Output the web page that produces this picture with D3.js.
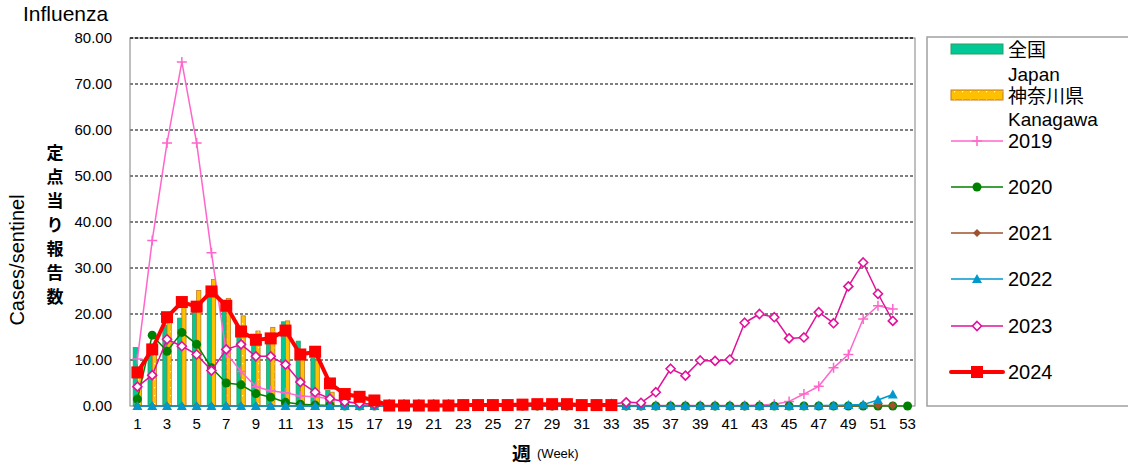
<!DOCTYPE html>
<html>
<head>
<meta charset="utf-8">
<script src="https://cdn.jsdelivr.net/npm/d3@7"></script>
<style>
  body { margin: 0; background: #fff; }
  text { font-family: "Liberation Sans", Arial, sans-serif; fill: #000; }
</style>
</head>
<body>
<svg id="chart" width="1128" height="470"></svg>
<script>
// weeks 1..53
const weeks = d3.range(1, 54);
const tickWeeks = weeks.filter((w) => w % 2 === 1);
const yTicks = [0, 10, 20, 30, 40, 50, 60, 70, 80];

// bars (weeks 1..33)
const japanBars = [12.7, 11.0, 17.5, 19.1, 21.5, 23.8, 22.0, 16.8, 15.1, 15.1, 18.3, 14.1, 10.4, 3.4, 1.5, 0.6, 0.3, 0.1, 0.1, 0.1, 0.1, 0.1, 0.1, 0.1, 0.1, 0.1, 0.1, 0.1, 0.1, 0.1, 0.1, 0.1, 0.1];
const kanagawaBars = [7.0, 12.0, 19.0, 22.0, 25.1, 27.5, 23.4, 19.6, 16.3, 17.1, 18.5, 12.1, 9.9, 3.0, 1.5, 0.8, 0.3, 0.1, 0.1, 0.1, 0.1, 0.1, 0.1, 0.1, 0.1, 0.1, 0.1, 0.2, 0.2, 0.2, 0.1, 0.1, 0.1];

const y2019 = [10.2, 36.0, 57.2, 74.8, 57.2, 33.3, 11.5, 7.5, 4.2, 3.3, 2.9, 2.2, 2.0, 1.6, 1.0, 0.5, 0.3, 0.2, 0.1, 0.1, 0.1, 0.1, 0.1, 0.1, 0.1, 0.1, 0.1, 0.1, 0.1, 0.1, 0.1, 0.1, 0.1, 0.1, 0.1, 0.1, 0.1, 0.1, 0.1, 0.1, 0.1, 0.1, 0.2, 0.4, 1.0, 2.6, 4.3, 8.3, 11.2, 18.9, 21.8, 21.1];
const y2020 = [1.5, 15.4, 11.9, 16.0, 13.4, 8.3, 5.0, 4.6, 2.7, 1.9, 0.8, 0.4, 0.2, 0.1, 0.0, 0.0, 0.0, 0.0, 0.0, 0.0, 0.0, 0.0, 0.0, 0.0, 0.0, 0.0, 0.0, 0.0, 0.0, 0.0, 0.0, 0.0, 0.0, 0.0, 0.0, 0.0, 0.0, 0.0, 0.0, 0.0, 0.0, 0.0, 0.0, 0.0, 0.0, 0.0, 0.0, 0.0, 0.0, 0.0, 0.0, 0.0, 0.0];
const y2021 = [0.0, 0.0, 0.0, 0.0, 0.0, 0.0, 0.0, 0.0, 0.0, 0.0, 0.0, 0.0, 0.0, 0.0, 0.0, 0.0, 0.0, 0.0, 0.0, 0.0, 0.0, 0.0, 0.0, 0.0, 0.0, 0.0, 0.0, 0.0, 0.0, 0.0, 0.0, 0.0, 0.0, 0.0, 0.0, 0.0, 0.0, 0.0, 0.0, 0.0, 0.0, 0.0, 0.0, 0.0, 0.0, 0.0, 0.0, 0.0, 0.0, 0.1, 0.1, 0.1];
const y2022 = [0.0, 0.0, 0.0, 0.0, 0.0, 0.0, 0.0, 0.0, 0.0, 0.0, 0.0, 0.0, 0.0, 0.0, 0.0, 0.0, 0.0, 0.0, 0.0, 0.0, 0.0, 0.0, 0.0, 0.0, 0.0, 0.0, 0.0, 0.0, 0.0, 0.0, 0.0, 0.0, 0.0, 0.0, 0.0, 0.0, 0.0, 0.0, 0.0, 0.0, 0.0, 0.0, 0.0, 0.0, 0.0, 0.0, 0.1, 0.1, 0.2, 0.3, 1.3, 2.5];
const y2023 = [4.2, 6.7, 14.5, 13.0, 11.2, 7.7, 12.3, 13.4, 10.8, 10.8, 9.0, 5.2, 3.0, 1.6, 0.9, 0.6, 0.4, 0.3, 0.3, 0.3, 0.3, 0.3, 0.3, 0.3, 0.3, 0.3, 0.3, 0.3, 0.3, 0.3, 0.3, 0.3, 0.4, 0.8, 0.7, 3.0, 8.1, 6.6, 9.9, 9.8, 10.1, 18.1, 20.0, 19.3, 14.7, 14.9, 20.4, 18.0, 26.0, 31.2, 24.4, 18.5];
const y2024 = [7.3, 12.3, 19.3, 22.6, 21.6, 24.9, 21.8, 16.2, 14.4, 14.7, 16.4, 11.2, 11.8, 4.9, 2.6, 2.0, 1.2, 0.1, 0.1, 0.1, 0.1, 0.1, 0.2, 0.2, 0.2, 0.2, 0.3, 0.4, 0.4, 0.4, 0.2, 0.2, 0.2];

const svg = d3.select("#chart");
const plotLeft = 130, plotRight = 915, plotTop = 38, plotBottom = 406;

const x = d3.scaleBand().domain(weeks).range([plotLeft, plotRight]);
const y = d3.scaleLinear().domain([0, 80]).range([plotBottom, plotTop]);
const cx = (w) => x(w) + x.bandwidth() / 2;

const defs = svg.append("defs");
const dots = defs.append("pattern")
  .attr("id", "dots").attr("patternUnits", "userSpaceOnUse")
  .attr("width", 8).attr("height", 8);
dots.append("rect").attr("width", 8).attr("height", 8).attr("fill", "#FFC000");
dots.append("rect").attr("x", 2).attr("y", 3).attr("width", 1.2).attr("height", 1.2).attr("fill", "#fff");

// grid
svg.append("g")
  .selectAll("line")
  .data(yTicks.filter((t) => t > 0))
  .enter()
  .append("line")
  .attr("x1", plotLeft).attr("x2", plotRight)
  .attr("y1", (t) => y(t)).attr("y2", (t) => y(t))
  .attr("stroke", "#000").attr("stroke-width", 1)
  .attr("stroke-dasharray", "3,2");

// frame
svg.append("rect")
  .attr("x", plotLeft).attr("y", plotTop)
  .attr("width", plotRight - plotLeft).attr("height", plotBottom - plotTop)
  .attr("fill", "none").attr("stroke", "#808080").attr("stroke-width", 1);
svg.append("line")
  .attr("x1", plotLeft).attr("x2", plotRight).attr("y1", plotTop).attr("y2", plotTop)
  .attr("stroke", "#000").attr("stroke-dasharray", "3,2");

// y axis
const yAxis = svg.append("g")
  .attr("transform", `translate(${plotLeft},0)`)
  .call(d3.axisLeft(y).tickValues(yTicks).tickFormat(d3.format(".2f")).tickSize(0).tickPadding(18));
yAxis.select(".domain").remove();
yAxis.selectAll("text").style("font-size", "15px").style("font-family", "Liberation Sans, Arial");

// x axis
const xAxis = svg.append("g")
  .attr("transform", `translate(0,${plotBottom})`)
  .call(d3.axisBottom(x).tickValues(tickWeeks).tickSize(0).tickPadding(12));
xAxis.select(".domain").remove();
xAxis.selectAll("text").style("font-size", "15px").style("font-family", "Liberation Sans, Arial");

// bars
const barW = 4.2;
svg.append("g")
  .selectAll("rect")
  .data(japanBars)
  .enter()
  .append("rect")
  .attr("x", (d, i) => cx(i + 1) - barW)
  .attr("y", (d) => y(d))
  .attr("width", barW)
  .attr("height", (d) => plotBottom - y(d))
  .attr("fill", "#00C896")
  .attr("stroke", "#2E9E5E").attr("stroke-width", 0.8);

svg.append("g")
  .selectAll("rect")
  .data(kanagawaBars)
  .enter()
  .append("rect")
  .attr("x", (d, i) => cx(i + 1))
  .attr("y", (d) => y(d))
  .attr("width", barW)
  .attr("height", (d) => plotBottom - y(d))
  .attr("fill", "url(#dots)")
  .attr("stroke", "#C07820").attr("stroke-width", 0.8);

// line series
const series = [
  { name: "2019", data: y2019, color: "#FF66CC", width: 1.5, marker: "plus" },
  { name: "2020", data: y2020, color: "#008000", width: 1.5, marker: "circle" },
  { name: "2021", data: y2021, color: "#A0522D", width: 1.5, marker: "diamondFill" },
  { name: "2022", data: y2022, color: "#0099CC", width: 1.5, marker: "triangle" },
  { name: "2023", data: y2023, color: "#E0129A", width: 1.5, marker: "diamondOpen" },
  { name: "2024", data: y2024, color: "#FF0000", width: 4, marker: "square" },
];

function drawMarker(g, type, color, px, py) {
  if (type === "plus") {
    g.append("path").attr("d", `M${px - 5},${py}H${px + 5}M${px},${py - 5}V${py + 5}`)
      .attr("stroke", color).attr("stroke-width", 1.5).attr("fill", "none");
  } else if (type === "circle") {
    g.append("circle").attr("cx", px).attr("cy", py).attr("r", 4.5).attr("fill", color);
  } else if (type === "diamondFill") {
    g.append("path").attr("d", `M${px},${py - 4}L${px + 4},${py}L${px},${py + 4}L${px - 4},${py}Z`).attr("fill", color);
  } else if (type === "triangle") {
    g.append("path").attr("d", `M${px},${py - 5}L${px + 5},${py + 4}L${px - 5},${py + 4}Z`).attr("fill", color);
  } else if (type === "diamondOpen") {
    g.append("path").attr("d", `M${px},${py - 4.5}L${px + 4.5},${py}L${px},${py + 4.5}L${px - 4.5},${py}Z`)
      .attr("fill", "#fff").attr("stroke", color).attr("stroke-width", 1.6);
  } else if (type === "square") {
    g.append("rect").attr("x", px - 6).attr("y", py - 6).attr("width", 12).attr("height", 12).attr("fill", color);
  }
}

const line = d3.line().x((d, i) => cx(i + 1)).y((d) => y(d));

series.forEach((s) => {
  const g = svg.append("g");
  g.append("path")
    .datum(s.data)
    .attr("d", line)
    .attr("fill", "none")
    .attr("stroke", s.color)
    .attr("stroke-width", s.width)
    .attr("stroke-linejoin", "round");
  s.data.forEach((d, i) => drawMarker(g, s.marker, s.color, cx(i + 1), y(d)));
});

// titles
svg.append("text").attr("x", 23).attr("y", 21).text("Influenza").style("font-size", "21px");
svg.append("text")
  .attr("transform", "translate(24,260) rotate(-90)")
  .attr("text-anchor", "middle")
  .text("Cases/sentinel")
  .style("font-size", "20px");
const yTitle = "定点当り報告数".split("");
svg.append("g")
  .selectAll("text")
  .data(yTitle)
  .enter()
  .append("text")
  .attr("x", 55)
  .attr("y", (d, i) => 159 + i * 24)
  .attr("text-anchor", "middle")
  .text((d) => d)
  .style("font-size", "17px")
  .style("font-weight", "bold")
  .style("font-family", "Noto Sans CJK JP");

const xTitle = svg.append("text").attr("x", 512).attr("y", 461);
xTitle.append("tspan").text("週").style("font-size", "19px").style("font-weight", "bold").style("font-family", "Noto Sans CJK JP");
xTitle.append("tspan").attr("dx", 6).attr("dy", -3).text("(Week)").style("font-size", "13px");

// legend
svg.append("rect")
  .attr("x", 927).attr("y", 37).attr("width", 210).attr("height", 369)
  .attr("fill", "#fff").attr("stroke", "#a0a0a0").attr("stroke-width", 1.5);

const lg = svg.append("g");
lg.append("rect").attr("x", 951).attr("y", 44).attr("width", 52).attr("height", 10)
  .attr("fill", "#00C896").attr("stroke", "#2E9E5E");
lg.append("text").attr("x", 1008).attr("y", 57).text("全国").style("font-size", "19px").style("font-family", "Noto Sans CJK JP");
lg.append("text").attr("x", 1008).attr("y", 81).text("Japan").style("font-size", "19px");
lg.append("rect").attr("x", 951).attr("y", 90).attr("width", 52).attr("height", 10)
  .attr("fill", "url(#dots)").attr("stroke", "#C07820");
lg.append("text").attr("x", 1008).attr("y", 103).text("神奈川県").style("font-size", "19px").style("font-family", "Noto Sans CJK JP");
lg.append("text").attr("x", 1008).attr("y", 126).text("Kanagawa").style("font-size", "19px");

const legendY = [141, 187, 233, 279, 326, 372];
series.forEach((s, i) => {
  const ly = legendY[i];
  lg.append("line").attr("x1", 951).attr("x2", 1003).attr("y1", ly).attr("y2", ly)
    .attr("stroke", s.color).attr("stroke-width", s.width).attr("stroke-linecap", s.width > 2 ? "round" : "butt");
  drawMarker(lg, s.marker, s.color, 977, ly);
  lg.append("text").attr("x", 1008).attr("y", ly + 7).text(s.name).style("font-size", "20px");
});
</script>
</body>
</html>
